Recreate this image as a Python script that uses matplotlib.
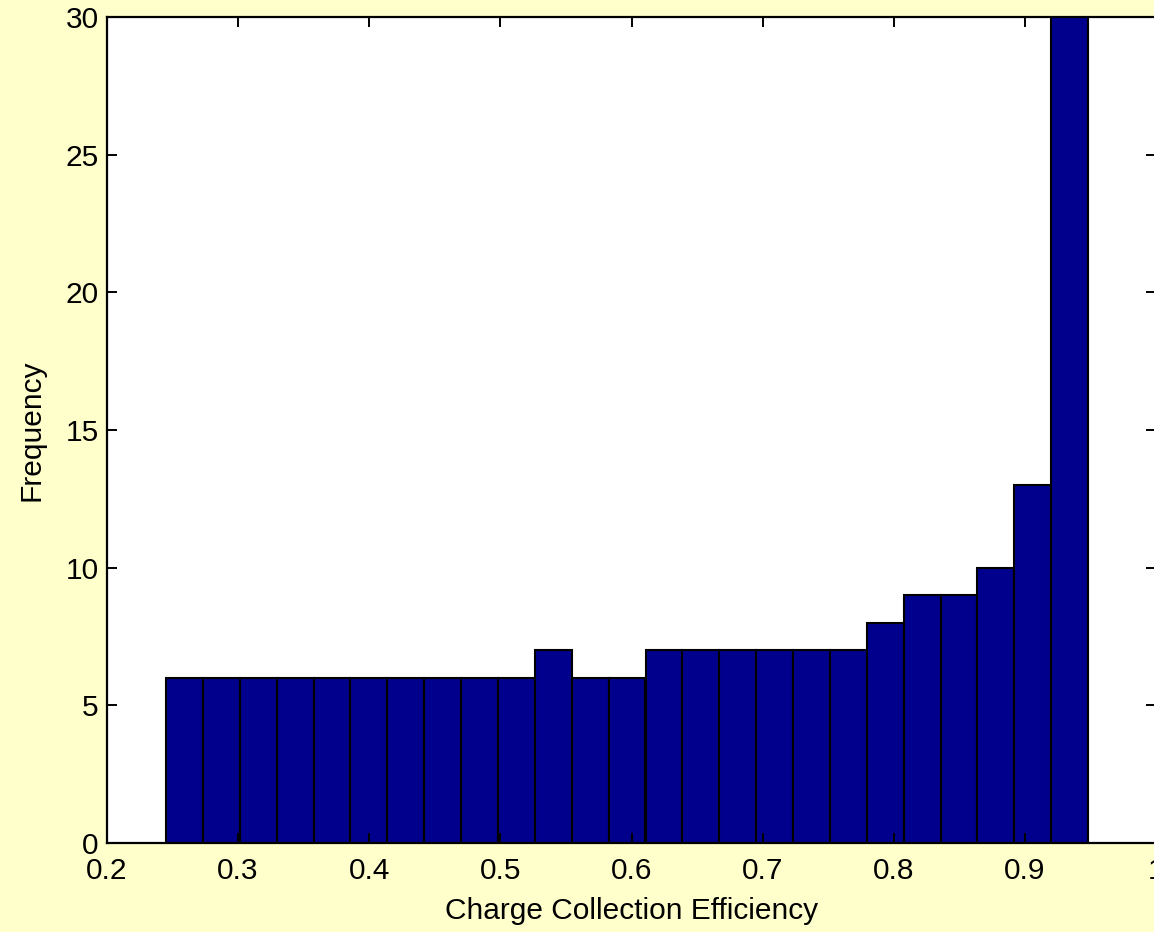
import matplotlib.pyplot as plt

plt.rcParams['font.family'] = ['Liberation Sans', 'DejaVu Sans']

# histogram bin centres and counts (last bin runs past the top of the axes)
bin_centers = [0.2591, 0.2872, 0.3153, 0.3435, 0.3716, 0.3997, 0.4279, 0.4560,
               0.4841, 0.5122, 0.5404, 0.5685, 0.5966, 0.6248, 0.6529, 0.6810,
               0.7091, 0.7373, 0.7654, 0.7935, 0.8217, 0.8498, 0.8779, 0.9060,
               0.9342]
counts = [6, 6, 6, 6, 6, 6, 6, 6, 6, 6, 7, 6, 6, 7, 7, 7, 7, 7, 7, 8, 9, 9,
          10, 13, 34]
bin_width = 0.02813

xticks = [0.2, 0.3, 0.4, 0.5, 0.6, 0.7, 0.8, 0.9, 1.0]
xticklabels = ['0.2', '0.3', '0.4', '0.5', '0.6', '0.7', '0.8', '0.9', '1']
yticks = [0, 5, 10, 15, 20, 25, 30]

fig = plt.figure(figsize=(11.54, 9.32), dpi=100, facecolor='#FFFFCC')
ax = fig.add_axes([107 / 1154, 89 / 932, 1049 / 1154, 826 / 932])
ax.set_facecolor('white')

ax.bar(bin_centers, counts, width=bin_width, color='#00008C',
       edgecolor='black', linewidth=1.5)

ax.set_xlim(0.2, 1.0)
ax.set_ylim(0, 30)
ax.set_xticks(xticks)
ax.set_xticklabels(xticklabels)
ax.set_yticks(yticks)
ax.tick_params(direction='in', length=7.5, width=1.4, top=True, right=True,
               labelsize=21.5)
ax.tick_params(axis='x', pad=10)
ax.tick_params(axis='y', pad=6)
for s in ax.spines.values():
    s.set_linewidth(1.6)

ax.set_xlabel('Charge Collection Efficiency', fontsize=21.5, labelpad=9)
ax.set_ylabel('Frequency', fontsize=21.5, labelpad=14)

fig.savefig('out.png', dpi=100, facecolor=fig.get_facecolor())
